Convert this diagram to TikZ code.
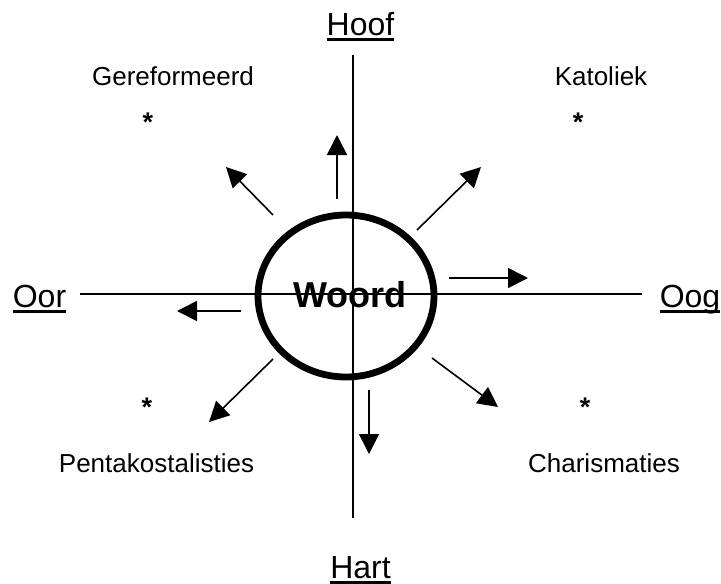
\documentclass[tikz,border=0pt]{standalone}
\usepackage{fontspec}
\setmainfont{Liberation Sans}
\usetikzlibrary{arrows.meta,shapes.geometric}
\begin{document}
\begin{tikzpicture}[x=1pt,y=-1pt,
  axis/.style={line width=2pt},
  arr/.style={line width=1.6pt,-{Triangle[length=20pt,width=20pt]}},
  biglabel/.style={inner sep=0pt,anchor=base,text depth=0pt,font=\fontsize{32}{38}\selectfont},
  smalllabel/.style={inner sep=0pt,anchor=base,font=\fontsize{26}{31}\selectfont},
  star/.style={inner sep=0pt,anchor=base,font=\fontsize{27}{32}\selectfont\bfseries},
  uline/.style={line width=3pt}]
\useasboundingbox (0,0) rectangle (721,584);
% axes
\coordinate (vtop) at (353,55);
\coordinate (vbot) at (353,518);
\coordinate (hl) at (80,294);
\coordinate (hr) at (642,294);
\draw[axis] (vtop) -- (vbot);
\draw[axis] (hl) -- (hr);
% ellipse
\node[draw,line width=6.8pt,ellipse,minimum width=176pt,minimum height=162pt,inner sep=0pt] (ring) at (346,296) {};
\node[inner sep=0pt,anchor=base,font=\fontsize{36}{43}\selectfont\bfseries] (woord) at (350,307) {Woord};
% axis labels
\node[biglabel] (hoof) at (360.5,35) {Hoof};
\node[biglabel] (hart) at (360.5,578) {Hart};
\node[biglabel] (oor) at (39.5,307) {Oor};
\node[biglabel] (oog) at (690,307) {Oog};
\foreach \n in {hoof,hart,oor,oog}{
  \draw[uline] ([yshift=-4.5pt]\n.base west) -- ([yshift=-4.5pt]\n.base east);
}
% category labels
\node[smalllabel] (geref) at (173,85) {Gereformeerd};
\node[smalllabel] (katol) at (601,85) {Katoliek};
\node[smalllabel] (pent) at (156.5,472) {Pentakostalisties};
\node[smalllabel] (char) at (604,472) {Charismaties};
\node[star] (s1) at (148,131) {*};
\node[star] (s2) at (578,131) {*};
\node[star] (s3) at (147,416) {*};
\node[star] (s4) at (585,416) {*};
% arrows
\coordinate (a1s) at (337,199); \coordinate (a1e) at (337,135);
\coordinate (a2s) at (273,215); \coordinate (a2e) at (226,167);
\coordinate (a3s) at (417,230); \coordinate (a3e) at (481,167);
\coordinate (a4s) at (449,278); \coordinate (a4e) at (528,278);
\coordinate (a5s) at (241,311); \coordinate (a5e) at (177,311);
\coordinate (a6s) at (273,359); \coordinate (a6e) at (209,422);
\coordinate (a7s) at (369,390); \coordinate (a7e) at (369,454);
\coordinate (a8s) at (432,358); \coordinate (a8e) at (498,407);
\foreach \i in {1,...,8}{
  \draw[arr] (a\i s) -- (a\i e);
}
\end{tikzpicture}
\end{document}
